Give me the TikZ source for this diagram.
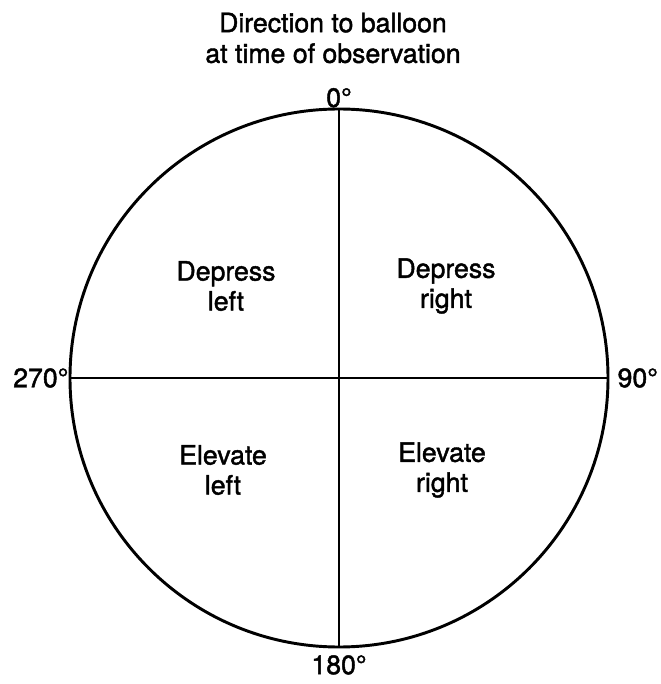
\documentclass[tikz,border=0pt]{standalone}
\usepackage{fontspec}
\setmainfont{TeX Gyre Heros}[FakeBold=1.6]
\usepackage{tikz}
\usetikzlibrary{positioning}
\usepackage{xcolor}
\definecolor{ink}{HTML}{000000}
\tikzset{rim/.style={draw=ink,line width=2.2pt},crossline/.style={draw=ink,line width=2pt},quadlabel/.style={font=\fontsize{20}{22.5}\selectfont,align=center,inner sep=0pt},anglelabel/.style={font=\fontsize{20}{22.5}\selectfont,inner sep=1pt},titlelabel/.style={font=\fontsize{20}{23}\selectfont,align=center,inner sep=0pt}}

\begin{document}
\begin{tikzpicture}[x=.75pt,y=.75pt]
\useasboundingbox (-339,-306) rectangle (321,378);
\draw[rim] (0,0) circle[radius=269];
\coordinate (N) at (90:269);
\coordinate (S) at (270:269);
\coordinate (E) at (0:269);
\coordinate (W) at (180:269);
\draw[crossline] (N)--(S);
\draw[crossline] (W)--(E);
\node[titlelabel] (title) at (-6,340) {Direction to balloon\\at time of observation};
\node[anglelabel,anchor=south] (deg0) at (N) {0°};
\node[anglelabel,anchor=west,inner sep=7pt] (deg90) at (E) {90°};
\node[anglelabel,anchor=north,inner sep=6pt] (deg180) at (S) {180°};
\node[anglelabel,anchor=east] (deg270) at (W) {270°};
\node[quadlabel] (depleft) at (-113,92) {Depress\\left};
\node[quadlabel] (depright) at (107,92) {Depress\\right};
\node[quadlabel] (elevleft) at (-116,-92) {Elevate\\left};
\node[quadlabel] (elevright) at (103,-92) {Elevate\\right};
\end{tikzpicture}
\end{document}
